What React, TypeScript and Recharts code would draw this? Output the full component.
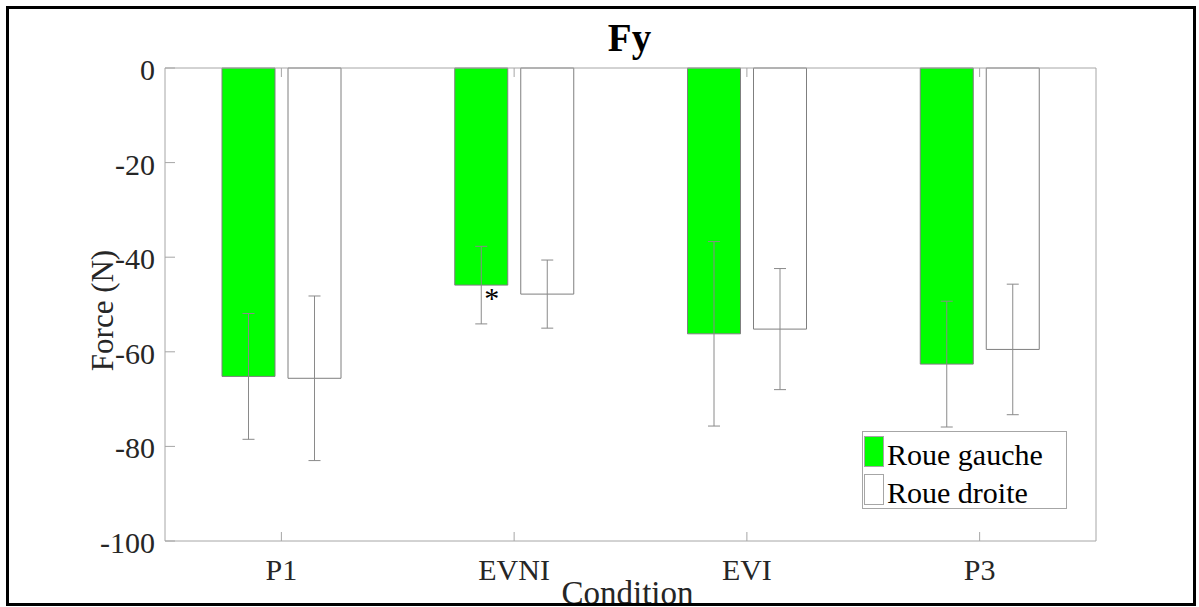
import { Bar, BarChart, ErrorBar, LabelList, Legend, XAxis, YAxis } from "recharts";

const categories = ["P1", "EVNI", "EVI", "P3"];
const leftMeans = [-65.2, -45.9, -56.2, -62.6];
const rightMeans = [-65.6, -47.8, -55.2, -59.5];
const leftSd = [13.3, 8.2, 19.5, 13.3];
const rightSd = [17.4, 7.2, 12.8, 13.8];
const marks = ["", "*", "", ""];
const yTicks = [-100, -80, -60, -40, -20, 0];
const seriesNames = ["Roue gauche", "Roue droite"];
const seriesFills = ["#00ff00", "#ffffff"];

const FONT = '"Liberation Serif", "Times New Roman", serif';
const AXIS = "#a6a6a6";
const TEXT = "#262626";
const EDGE = "#7f7f7f";

const rows = categories.map((cat, i) => ({
  cat,
  left: leftMeans[i],
  right: rightMeans[i],
  leftSd: leftSd[i],
  rightSd: rightSd[i],
  mark: marks[i],
}));

function BottomTick({ x, y, payload }: any) {
  return (
    <g>
      <line x1={x} x2={x} y1={y} y2={y - 9} stroke={AXIS} />
      <text x={x} y={y + 39} textAnchor="middle" fill={TEXT} fontSize={30} fontFamily={FONT}>
        {payload.value}
      </text>
    </g>
  );
}

function TopTick({ x, y }: any) {
  return <line x1={x} x2={x} y1={y} y2={y + 9} stroke={AXIS} />;
}

function LeftTick({ x, y, payload }: any) {
  return (
    <g>
      <line x1={x} x2={x + 10} y1={y} y2={y} stroke={AXIS} />
      <text x={x - 10} y={y + 12} textAnchor="end" fill={TEXT} fontSize={30} fontFamily={FONT}>
        {payload.value}
      </text>
    </g>
  );
}

function RightTick({ x, y }: any) {
  return <line x1={x} x2={x - 9} y1={y} y2={y} stroke={AXIS} />;
}

function LegendBox() {
  return (
    <svg width={205} height={78}>
      <rect x={0.5} y={0.5} width={204} height={77} fill="#fff" stroke={AXIS} />
      {seriesNames.map((name, i) => (
        <g key={name}>
          <rect x={2.5} y={5.5 + i * 38} width={19} height={30} fill={seriesFills[i]} stroke={AXIS} />
          <text x={25} y={34 + i * 37.5} fontSize={30} fontFamily={FONT} fill="#000">
            {name}
          </text>
        </g>
      ))}
    </svg>
  );
}

function MarkLabel({ x, y, width, height, value }: any) {
  if (!value) return null;
  const bottom = Math.max(y, y + height);
  return (
    <text x={x + width * 0.7} y={bottom + 23} textAnchor="middle" fontSize={30} fontFamily={FONT} fill="#000">
      {value}
    </text>
  );
}

export default function App() {
  return (
    <div style={{ position: "absolute", left: 0, top: 0, width: 1199, height: 607, overflow: "hidden", background: "#fff" }}>
      <BarChart
        width={1199}
        height={607}
        data={rows}
        margin={{ top: 67, right: 102, bottom: 0, left: 0 }}
        barSize={53}
        barGap={13}
      >
        <XAxis
          dataKey="cat"
          height={66}
          stroke={AXIS}
          tickLine={false}
          tickSize={0}
          tickMargin={0}
          tick={<BottomTick />}
          label={{
            content: ({ viewBox }: any) => (
              <text x={viewBox.x + viewBox.width / 2 - 3} y={viewBox.y + 63} textAnchor="middle" fontSize={33} fontFamily={FONT} fill={TEXT}>
                Condition
              </text>
            ),
          }}
        />
        <XAxis
          xAxisId="top"
          dataKey="cat"
          orientation="top"
          height={1}
          stroke={AXIS}
          tickLine={false}
          tickSize={0}
          tickMargin={0}
          tick={<TopTick />}
          label={{
            content: ({ viewBox }: any) => (
              <text x={viewBox.x + viewBox.width / 2 - 1} y={viewBox.y - 16} textAnchor="middle" fontSize={39} fontWeight="bold" fontFamily={FONT} fill="#000">
                Fy
              </text>
            ),
          }}
        />
        <YAxis
          domain={[-100, 0]}
          ticks={yTicks}
          width={165}
          stroke={AXIS}
          tickLine={false}
          tickSize={0}
          tickMargin={0}
          tick={<LeftTick />}
          label={{
            content: ({ viewBox }: any) => {
              const cx = viewBox.x + 113;
              const cy = viewBox.y + viewBox.height / 2 + 6;
              return (
                <text x={cx} y={cy} transform={`rotate(-90 ${cx} ${cy})`} textAnchor="middle" fontSize={31} fontFamily={FONT} fill={TEXT}>
                  Force (N)
                </text>
              );
            },
          }}
        />
        <YAxis
          yAxisId="right"
          orientation="right"
          domain={[-100, 0]}
          ticks={yTicks}
          width={1}
          stroke={AXIS}
          tickLine={false}
          tickSize={0}
          tickMargin={0}
          tick={<RightTick />}
        />
        <Legend
          verticalAlign="middle"
          align="center"
          content={<LegendBox />}
          wrapperStyle={{ left: 862, top: 431, width: 205, height: 78 }}
        />
        <Bar dataKey="left" name={seriesNames[0]} fill={seriesFills[0]} stroke={EDGE} strokeWidth={1} isAnimationActive={false}>
          <ErrorBar dataKey="leftSd" width={6} stroke="#8a8a8a" strokeWidth={1} direction="y" />
          <LabelList dataKey="mark" content={<MarkLabel />} />
        </Bar>
        <Bar dataKey="right" name={seriesNames[1]} fill={seriesFills[1]} stroke={EDGE} strokeWidth={1} isAnimationActive={false}>
          <ErrorBar dataKey="rightSd" width={6} stroke="#8a8a8a" strokeWidth={1} direction="y" />
        </Bar>
      </BarChart>
      <div
        style={{
          position: "absolute",
          left: 6,
          top: 6,
          width: 1190,
          height: 600,
          border: "3px solid #000",
          boxSizing: "border-box",
          pointerEvents: "none",
        }}
      />
    </div>
  );
}
